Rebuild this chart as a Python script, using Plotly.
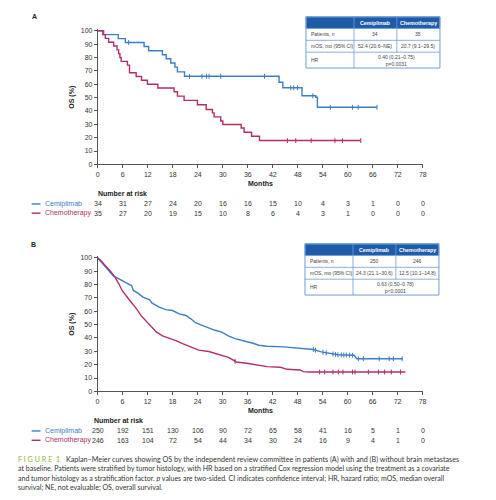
import plotly.graph_objects as go
import numpy as np

# ---------------- DATA ----------------
months_ticks = list(range(0, 79, 6))
os_ticks = list(range(0, 101, 10))

# Panel A (with brain metastases)
a_cemi_t = [0, 1.4, 4.9, 6.6, 11.1, 12.2, 15.5, 16.4, 17.5, 18.5, 19.1, 20.8, 43.5, 44.4, 49.0, 52.3, 52.7, 67.0]
a_cemi_s = [100, 97.1, 94.1, 91.2, 88.2, 85.0, 82.0, 79.0, 75.9, 72.8, 69.2, 65.9, 61.5, 57.3, 51.3, 50.2, 42.7, 42.7]
a_cemi_cens = [7.4, 22.0, 25.0, 26.1, 26.7, 29.5, 40.0, 46.3, 47.0, 47.9, 51.6, 55.8, 61.1, 62.5, 67.0]

a_chemo_t = [0, 1.2, 1.8, 2.6, 3.8, 4.6, 5.0, 5.3, 5.6, 7.1, 7.6, 9.2, 10.5, 11.9, 14.4, 18.3, 19.1, 20.7, 23.9,
             26.0, 27.5, 27.9, 29.5, 30.0, 34.4, 35.1, 36.9, 38.8, 63.1]
a_chemo_s = [100, 97.1, 94.3, 91.4, 88.6, 85.7, 82.9, 80.0, 77.1, 74.3, 68.6, 65.7, 62.9, 60.0, 57.1, 54.3, 51.1, 47.9, 44.6,
             41.0, 38.5, 35.5, 32.5, 29.8, 27.2, 24.0, 21.0, 17.8, 17.8]
a_chemo_cens = [45.5, 47.5, 51.2, 56.9, 58.7, 63.1]

a_risk_cemi = [34, 31, 27, 24, 20, 16, 16, 15, 10, 4, 3, 1, 0, 0]
a_risk_chemo = [35, 27, 20, 19, 15, 10, 8, 6, 4, 3, 1, 0, 0, 0]

# Panel B (without brain metastases)
b_cemi_t = [0, 0.8, 1.6, 2.4, 3.1, 3.9, 4.7, 5.9, 7.0, 8.2, 8.6, 9.7, 10.9, 12.5, 13.1, 14.8, 16.4, 18.0, 19.6, 21.2,
            22.4, 23.5, 25.1, 26.7, 28.2, 29.8, 31.4, 33.0, 34.6, 35.8, 37.3, 38.7, 40.7, 44.7, 48.6, 51.8, 53.7,
            55.3, 57.7, 61.6, 62.2, 73.3]
b_cemi_s = [100, 97, 94, 91, 89, 86, 85, 83, 81.5, 79, 75.5, 73.5, 70.5, 68.5, 66, 63, 61.2, 60.5, 58, 56.8,
            54.3, 51.4, 49.4, 47.4, 45.7, 44.4, 41.5, 39.5, 38.3, 37.5, 36, 34.5, 33.8, 33.3, 32.1, 31.3, 29.6,
            28.6, 27.4, 27.0, 24.4, 24.4]
b_cemi_cens = [51.8, 52.3, 54.1, 54.9, 56.5, 57.1, 57.7, 58.5, 59.1, 59.7, 60.5, 61.2, 62.6, 63.8, 67.6, 70.0, 71.0, 73.1]

b_chemo_t = [0, 0.8, 1.6, 2.4, 3.1, 3.7, 4.3, 5.1, 5.9, 7.0, 8.2, 9.4, 10.5, 11.7, 12.5, 13.3, 14.1, 15.6, 17.6, 18.8,
             20.4, 22.4, 24.3, 26.7, 29.0, 31.4, 32.5, 33.3, 35.8, 37.1, 38.7, 40.7, 43.9, 45.5, 48.6, 49.4, 50.6, 73.9]
b_chemo_s = [100, 98, 95, 92.5, 90, 87.5, 85, 80.5, 75.5, 71, 66.5, 61.5, 56.5, 52.5, 50, 47.5, 44.5, 41.5, 39.5, 38,
             35.8, 33.3, 30.9, 29.8, 27.7, 25.5, 23.5, 22.0, 21.0, 20.2, 19.3, 18.5, 18.0, 16.5, 16.0, 14.8, 14.5, 14.5]
b_chemo_cens = [33.0, 53.3, 54.5, 56.5, 57.8, 58.9, 61.2, 61.8, 65.0, 67.4, 68.9, 70.5, 72.7]

b_risk_cemi = [250, 192, 151, 130, 106, 90, 72, 65, 58, 41, 16, 5, 1, 0]
b_risk_chemo = [246, 163, 104, 72, 54, 44, 34, 30, 24, 16, 9, 4, 1, 0]

series_names = ["Cemiplimab", "Chemotherapy"]

table_header = ["", "Cemiplimab", "Chemotherapy"]
table_a_rows = [["Patients, n", "34", "35"], ["mOS, mo (95% CI)", "52.4 (20.6–NE)", "20.7 (9.1–29.5)"]]
table_a_hr = "0.40 (0.21–0.75)<br>p=0.0031"
table_b_rows = [["Patients, n", "250", "246"], ["mOS, mo (95% CI)", "24.3 (21.1–30.6)", "12.5 (10.1–14.8)"]]
table_b_hr = "0.63 (0.50–0.78)<br>p<0.0001"

caption_lines = [
    "Kaplan–Meier curves showing OS by the independent review committee in patients (A) with and (B) without brain metastases",
    "at baseline. Patients were stratified by tumor histology, with HR based on a stratified Cox regression model using the treatment as a covariate",
    "and tumor histology as a stratification factor. <i>p</i> values are two-sided. CI indicates confidence interval; HR, hazard ratio; mOS, median overall",
    "survival; NE, not evaluable; OS, overall survival.",
]

# ---------------- STYLE ----------------
W, H = 496, 500
BLUE = "#3E7EC3"
MAG = "#B12E6C"
AXC = "#555555"
TXT = "#333333"
FONT = "Liberation Sans"


def px(x):
    return x / W


def py(y):
    return 1 - y / H


def step_at(ts, ss, t):
    ts = np.asarray(ts)
    idx = np.searchsorted(ts, t, side="right") - 1
    return float(np.asarray(ss)[max(idx, 0)])


fig = go.Figure()

panels = [
    dict(xa="x", ya="y", shape="hv",
         curves=[(a_cemi_t, a_cemi_s, a_cemi_cens, BLUE), (a_chemo_t, a_chemo_s, a_chemo_cens, MAG)]),
    dict(xa="x2", ya="y2", shape="linear",
         curves=[(b_cemi_t, b_cemi_s, b_cemi_cens, BLUE), (b_chemo_t, b_chemo_s, b_chemo_cens, MAG)]),
]

for p in panels:
    for (t, s, cens, col), name in zip(p["curves"], series_names):
        fig.add_trace(go.Scatter(x=t, y=s, mode="lines", line=dict(color=col, width=1.4, shape=p["shape"]),
                                 name=name, xaxis=p["xa"], yaxis=p["ya"], hoverinfo="skip"))
        if p["shape"] == "hv":
            cy = [step_at(t, s, c) for c in cens]
        else:
            cy = list(np.interp(cens, t, s))
        fig.add_trace(go.Scatter(x=cens, y=cy, mode="markers",
                                 marker=dict(symbol="line-ns-open", size=3.5, color=col,
                                             line=dict(color=col, width=1)),
                                 xaxis=p["xa"], yaxis=p["ya"], hoverinfo="skip", showlegend=False))

axis_common = dict(showline=True, linecolor=AXC, linewidth=1, ticks="outside", ticklen=3, tickwidth=1,
                   tickcolor=AXC, showgrid=False, zeroline=False,
                   tickfont=dict(size=7, color=TXT, family=FONT))

# panel geometry (pixels)
A = dict(x0=97, x1=426, y0=164, ytop=27)
B = dict(x0=96.7, x1=425.7, y0=393.3, ytop=256.3)

fig.update_layout(
    width=W, height=H, margin=dict(l=0, r=0, t=0, b=0),
    paper_bgcolor="white", plot_bgcolor="white", showlegend=False,
    font=dict(family=FONT, color=TXT),
    xaxis=dict(domain=[px(A["x0"]), px(A["x1"])], range=[0, 78], tickvals=months_ticks, anchor="y", **axis_common),
    yaxis=dict(domain=[py(A["y0"]), py(A["ytop"])], range=[0, 101.5], tickvals=os_ticks, anchor="x", **axis_common),
    xaxis2=dict(domain=[px(B["x0"]), px(B["x1"])], range=[0, 78], tickvals=months_ticks, anchor="y2", **axis_common),
    yaxis2=dict(domain=[py(B["y0"]), py(B["ytop"])], range=[0, 101.5], tickvals=os_ticks, anchor="x2", **axis_common),
)

ann = []
shapes = []


def text(x, y, s, size=7, color=TXT, bold=False, xanchor="center", xref="paper", angle=0, family=FONT):
    ann.append(dict(x=px(x) if xref == "paper" else x, y=py(y), xref=xref, yref="paper",
                    text=f"<b>{s}</b>" if bold else s, showarrow=False, xanchor=xanchor, yanchor="middle",
                    textangle=angle, font=dict(size=size, color=color, family=family)))


# panel labels
text(33, 15, "A", size=7, bold=True, color="#222")
text(32, 245, "B", size=7, bold=True, color="#222")

# axis titles
text(70, (29 + 164) / 2, "OS (%)", size=7, bold=True, angle=-90, color="#222")
text(70, (258.3 + 393.3) / 2, "OS (%)", size=7, bold=True, angle=-90, color="#222")
text((A["x0"] + A["x1"]) / 2, 183.7, "Months", size=7, bold=True, color="#222")
text((B["x0"] + B["x1"]) / 2, 413, "Months", size=7, bold=True, color="#222")

# number at risk
risk_sets = [
    (dict(title_x=95, title_y=193.7, rows_y=[204, 213.3], xref="x"), [a_risk_cemi, a_risk_chemo]),
    (dict(title_x=91, title_y=423, rows_y=[433.3, 442.7], xref="x2"), [b_risk_cemi, b_risk_chemo]),
]
for geo, rows in risk_sets:
    text(geo["title_x"], geo["title_y"], "Number at risk", size=7, bold=True, xanchor="left", color="#222")
    for vals, yy, col, name in zip(rows, geo["rows_y"], [BLUE, MAG], series_names):
        shapes.append(dict(type="line", xref="paper", yref="paper", x0=px(30), x1=px(39), y0=py(yy), y1=py(yy),
                           line=dict(color=col, width=1.4)))
        text(42, yy, name, size=7, color=col, xanchor="left")
        for m, v in zip(months_ticks, vals):
            text(m, yy, str(v), size=7, xref=geo["xref"])


# tables
def draw_table(x0, y0, rows, hr):
    cw = [48.6, 43.4, 43.6]
    rh = [11.7, 12, 12, 16]
    xs = [x0, x0 + cw[0], x0 + cw[0] + cw[1], x0 + sum(cw)]
    ys = [y0]
    for h in rh:
        ys.append(ys[-1] + h)
    border = "#6E9DD6"
    shapes.append(dict(type="rect", xref="paper", yref="paper", x0=px(xs[0]), x1=px(xs[3]), y0=py(ys[0]), y1=py(ys[1]),
                       fillcolor="#1F5CA8", line=dict(color=border, width=0.8)))
    shapes.append(dict(type="rect", xref="paper", yref="paper", x0=px(xs[0]), x1=px(xs[3]), y0=py(ys[0]), y1=py(ys[4]),
                       fillcolor="rgba(0,0,0,0)", line=dict(color=border, width=1)))
    for yy in ys[2:4]:
        shapes.append(dict(type="line", xref="paper", yref="paper", x0=px(xs[0]), x1=px(xs[3]), y0=py(yy), y1=py(yy),
                           line=dict(color=border, width=0.8)))
    shapes.append(dict(type="line", xref="paper", yref="paper", x0=px(xs[1]), x1=px(xs[1]), y0=py(ys[0]), y1=py(ys[4]),
                       line=dict(color=border, width=0.8)))
    shapes.append(dict(type="line", xref="paper", yref="paper", x0=px(xs[2]), x1=px(xs[2]), y0=py(ys[0]), y1=py(ys[3]),
                       line=dict(color=border, width=0.8)))
    for i in (1, 2):
        text((xs[i] + xs[i + 1]) / 2, (ys[0] + ys[1]) / 2, table_header[i], size=5.3, bold=True, color="white")
    for r, row in enumerate(rows):
        yc = (ys[r + 1] + ys[r + 2]) / 2
        text(xs[0] + 3, yc, row[0], size=5, color="#444", xanchor="left")
        for i in (1, 2):
            text((xs[i] + xs[i + 1]) / 2, yc, row[i], size=5, color="#444")
    text(xs[0] + 3, (ys[3] + ys[4]) / 2, "HR", size=5, color="#444", xanchor="left")
    text((xs[1] + xs[3]) / 2, (ys[3] + ys[4]) / 2, hr, size=5, color="#444")


draw_table(307.7, 15, table_a_rows, table_a_hr)
draw_table(306.7, 244.3, table_b_rows, table_b_hr)

# caption
CAP = "Lato"
text(14, 462, "F I G U R E  1", size=7.2, color="#95B43A", xanchor="left", family=CAP)
text(63, 462, caption_lines[0], size=7.2, xanchor="left", family=CAP)
for i, line in enumerate(caption_lines[1:]):
    text(14, [471.7, 481.2, 490.8][i], line, size=7.0, xanchor="left", family=CAP)

fig.update_layout(annotations=ann, shapes=shapes)
fig.write_html("out.html")
